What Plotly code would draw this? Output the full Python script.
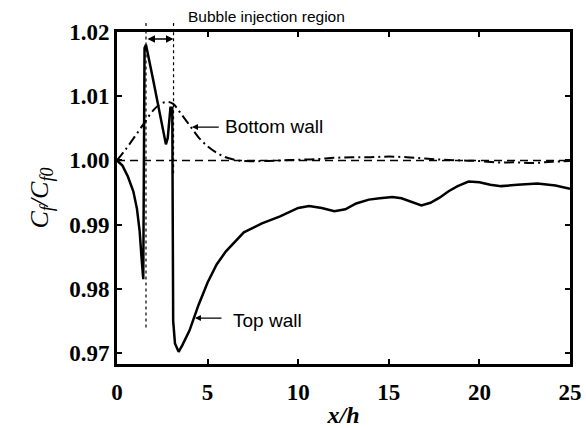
import plotly.graph_objects as go

# Top wall (solid)
top_x = [0, 0.3, 0.6, 0.9, 1.1, 1.25, 1.35, 1.45, 1.52, 1.6, 2.0, 2.4, 2.7, 2.8, 2.95, 3.05, 3.1, 3.2, 3.4, 3.6,
         4.0, 4.5, 5.0, 5.5, 6.0, 7.0, 8.0, 9.0, 10.0, 10.6, 11.3, 12.0, 12.6, 13.2, 13.9, 14.5, 15.2, 15.7,
         16.2, 16.8, 17.3, 17.8, 18.3, 18.8, 19.4, 20.0, 20.6, 21.2, 22.1, 23.2, 24.2, 25.0]
top_y = [1.000, 0.9992, 0.9975, 0.9952, 0.9925, 0.9890, 0.9850, 0.9815, 1.0175, 1.0180, 1.0125, 1.0068, 1.0025,
         1.0035, 1.0082, 1.0082, 0.9750, 0.9715, 0.9702, 0.9712,
         0.9735, 0.9775, 0.9810, 0.9838, 0.9858, 0.9888, 0.9902, 0.9913, 0.9926, 0.9929, 0.9926, 0.9921,
         0.9924, 0.9933, 0.9939, 0.9941, 0.9943, 0.9941, 0.9936, 0.9930, 0.9934, 0.9942, 0.9952, 0.9960,
         0.9967, 0.9966, 0.9962, 0.9960, 0.9962, 0.9964, 0.9961, 0.9956]

# Bottom wall (dash-dot)
bot_x = [0, 0.5, 1.0, 1.5, 2.0, 2.4, 2.8, 3.1, 3.5, 4.0, 4.5, 5.0, 5.5, 6.0, 6.5, 7.0, 8.0, 9.0, 10, 11, 12,
         13, 14, 15, 16, 17, 18, 19, 20, 21, 22, 23, 24, 25]
bot_y = [1.000, 1.0018, 1.0038, 1.0058, 1.0078, 1.0088, 1.0091, 1.0088, 1.0074, 1.0055, 1.0036, 1.0022, 1.0012,
         1.0005, 1.0001, 0.9999, 0.9999, 1.0000, 1.0001, 1.0002, 1.0004, 1.0005, 1.0005, 1.0006, 1.0005,
         1.0003, 1.0001, 1.0000, 0.9999, 0.9997, 0.9997, 0.9996, 0.9998, 0.9999]

ref_x = [0, 25]
ref_y = [1.0, 1.0]

region_x = [1.6, 3.12]
region_bottom = [0.974, 0.998]
arrow_y = 1.0189

x_ticks = [0, 5, 10, 15, 20, 25]
y_ticks = [0.97, 0.98, 0.99, 1.00, 1.01, 1.02]
y_ticklabels = ["0.97", "0.98", "0.99", "1.00", "1.01", "1.02"]

fig = go.Figure()
fig.add_trace(go.Scatter(x=ref_x, y=ref_y, mode="lines",
                         line=dict(color="black", width=1.5, dash="8px,5px"), hoverinfo="skip"))
fig.add_trace(go.Scatter(x=bot_x, y=bot_y, mode="lines",
                         line=dict(color="black", width=2, dash="10px,4px,2px,4px", shape="spline"), hoverinfo="skip"))
fig.add_trace(go.Scatter(x=top_x, y=top_y, mode="lines",
                         line=dict(color="black", width=2.5), hoverinfo="skip"))

for xv, yb in zip(region_x, region_bottom):
    fig.add_shape(type="line", xref="x", yref="y", x0=xv, x1=xv, y0=yb, y1=1.02,
                  line=dict(color="black", width=1.2, dash="dot"))
    fig.add_shape(type="line", xref="x", yref="paper", x0=xv, x1=xv, y0=1.0, y1=1.03,
                  line=dict(color="black", width=1.2, dash="dot"))

serif = "Liberation Serif"
sans = "Liberation Sans"

fig.add_annotation(x=region_x[1], y=arrow_y, ax=region_x[0], ay=arrow_y, xref="x", yref="y",
                   axref="x", ayref="y", text="", showarrow=True, arrowhead=2, arrowside="end+start",
                   arrowsize=1, arrowwidth=1.5, arrowcolor="black")
fig.add_annotation(x=0.331, y=1.0, xref="paper", yref="paper", xanchor="center", yanchor="bottom", yshift=5,
                   text="Bubble injection region", showarrow=False,
                   font=dict(family=sans, size=15.5, color="black"))

fig.add_annotation(x=4.14, y=1.0052, ax=5.7, ay=1.0052, xref="x", yref="y", axref="x", ayref="y",
                   text="", showarrow=True, arrowhead=2, arrowsize=1, arrowwidth=1.2, arrowcolor="black")
fig.add_annotation(x=5.85, y=1.0053, xref="x", yref="y", xanchor="left", text="Bottom wall",
                   showarrow=False, font=dict(family=sans, size=19, color="black"))

fig.add_annotation(x=4.3, y=0.97545, ax=5.85, ay=0.97545, xref="x", yref="y", axref="x", ayref="y",
                   text="", showarrow=True, arrowhead=2, arrowsize=1, arrowwidth=1.2, arrowcolor="black")
fig.add_annotation(x=6.3, y=0.9751, xref="x", yref="y", xanchor="left", text="Top wall",
                   showarrow=False, font=dict(family=sans, size=19, color="black"))

fig.update_layout(
    template="none",
    width=586, height=428,
    margin=dict(l=117, r=16, t=32, b=64),
    paper_bgcolor="white", plot_bgcolor="white",
    showlegend=False,
    font=dict(family=serif, color="black"),
)
fig.update_xaxes(range=[0, 25], tickvals=x_ticks, ticks="inside", ticklen=5, tickwidth=2,
                 tickcolor="black", showline=True, linewidth=3, linecolor="black", mirror="ticks",
                 showgrid=False, zeroline=False, automargin=False, ticklabelstandoff=5,
                 tickfont=dict(family=serif, size=23, color="black", weight="bold"),
                 title=dict(text="<b><i>x/h</i></b>", font=dict(family=serif, size=24, color="black"),
                            standoff=4))
fig.update_yaxes(range=[0.9683, 1.02], tickvals=y_ticks, ticktext=y_ticklabels, ticks="inside",
                 ticklen=5, tickwidth=2, tickcolor="black", showline=True, linewidth=3,
                 linecolor="black", mirror="ticks", showgrid=False, zeroline=False, automargin=False,
                 tickfont=dict(family=serif, size=23, color="black", weight="bold"),
                 title=dict(text="<i>C<sub>f</sub>/C<sub>f0</sub></i>",
                            font=dict(family=serif, size=26, color="black"), standoff=14))

fig.write_html("out.html")
